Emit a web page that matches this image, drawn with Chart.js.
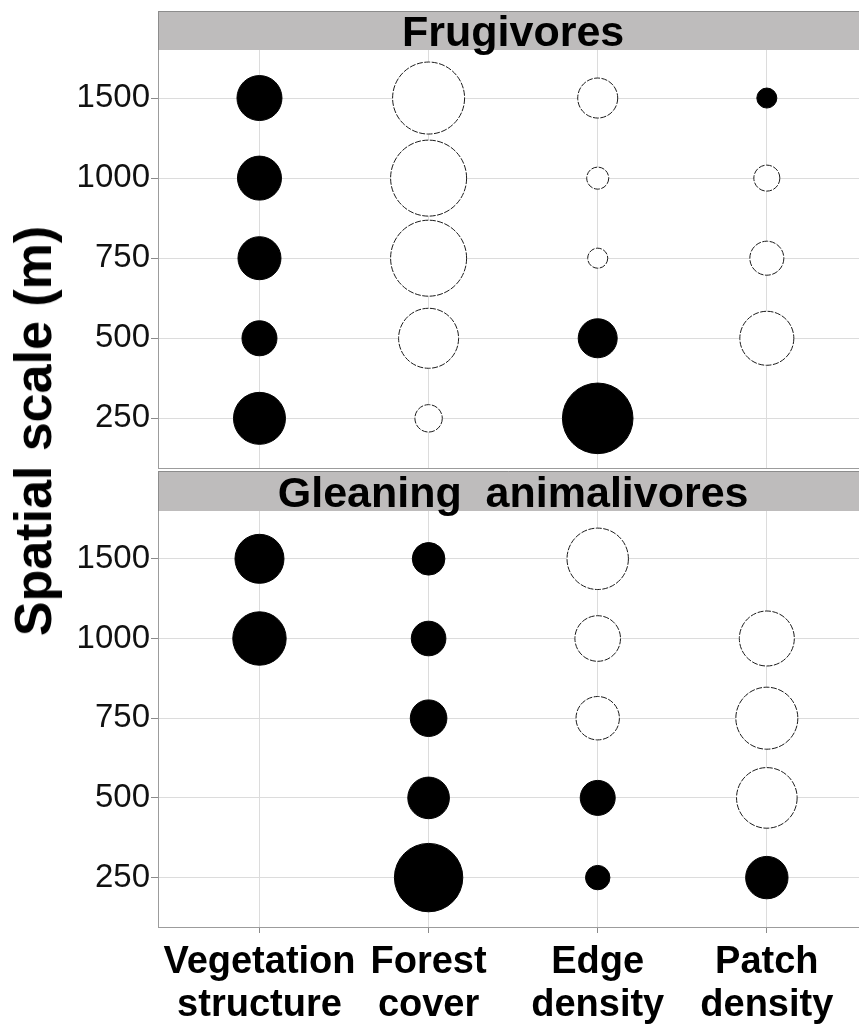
<!DOCTYPE html>
<html>
<head>
<meta charset="utf-8">
<script src="https://cdn.jsdelivr.net/npm/chart.js@4.4.1/dist/chart.umd.min.js"></script>
<style>
  html, body { margin: 0; padding: 0; background: #fff; }
  #wrap { position: relative; width: 859px; height: 1030px; overflow: hidden; }
  #topChart { position: absolute; left: 0; top: 0; }
  #bottomChart { position: absolute; left: 0; top: 470px; }
  #ytitle {
    position: absolute; left: 33px; top: 431px;
    transform: translate(-50%, -50%) rotate(-90deg);
    white-space: nowrap; line-height: 1;
    font: bold 52px 'Liberation Sans', Arial, sans-serif; color: #000;
  }
</style>
</head>
<body>
<div id="wrap">
  <canvas id="topChart" width="859" height="470"></canvas>
  <canvas id="bottomChart" width="859" height="560"></canvas>
  <div id="ytitle">Spatial scale (m)</div>
</div>
<script>
// landscape variables (x) and spatial scales (y, top to bottom)
var variables = [['Vegetation', 'structure'], ['Forest', 'cover'], ['Edge', 'density'], ['Patch', 'density']];
var spatialScales = ['1500', '1000', '750', '500', '250'];

// effect sizes per scale (1500..250); positive = filled, negative = open, null = none
var frugVegetation = [2.25, 2.2, 2.15, 1.75, 2.6];
var frugForest = [-3.6, -3.8, -3.8, -3.0, -1.37];
var frugEdge = [-2.0, -1.1, -1.0, 1.95, 3.53];
var frugPatch = [1.0, -1.3, -1.7, -2.7, null];

var gleanVegetation = [2.45, 2.67, null, null, null];
var gleanForest = [1.63, 1.73, 1.83, 2.08, 3.42];
var gleanEdge = [-3.07, -2.28, -2.17, 1.75, 1.22];
var gleanPatch = [null, -2.75, -3.1, -3.03, 2.12];

var R_UNIT = 10;
var FONT = "'Liberation Sans', Arial, sans-serif";

function panelDatasets(series) {
  var filled = [], open = [];
  series.forEach(function (vals, xi) {
    vals.forEach(function (v, yi) {
      if (v === null) return;
      var pt = { x: xi, y: yi, r: Math.abs(v) * R_UNIT };
      if (v > 0) filled.push(pt); else open.push(pt);
    });
  });
  return [
    { label: 'positive', data: filled, backgroundColor: '#000', borderColor: '#000', borderWidth: 1, clip: false },
    { label: 'negative', data: open, backgroundColor: '#fff', borderColor: '#1a1a1a', borderWidth: 1, clip: false, dashed: true }
  ];
}

// grey facet strip above the plot area + dashed outline for open bubbles
var stripPlugin = {
  id: 'strip',
  beforeDraw: function (chart, args, opts) {
    var ctx = chart.ctx, a = chart.chartArea;
    ctx.save();
    ctx.fillStyle = '#bebcbc';
    ctx.fillRect(a.left, opts.top, chart.width - a.left, a.top - opts.top);
    ctx.strokeStyle = '#8c8c8c';
    ctx.lineWidth = 1;
    ctx.beginPath();
    ctx.moveTo(a.left, opts.top + 0.5);
    ctx.lineTo(chart.width, opts.top + 0.5);
    ctx.moveTo(a.left + 0.5, opts.top);
    ctx.lineTo(a.left + 0.5, a.top);
    ctx.stroke();
    ctx.restore();
  },
  afterDraw: function (chart, args, opts) {
    var ctx = chart.ctx, a = chart.chartArea;
    var cx = chart.scales.x.getPixelForValue(1.5);
    var cy = (opts.top + a.top) / 2;
    ctx.save();
    ctx.font = 'bold 43px ' + FONT;
    ctx.fillStyle = '#000';
    ctx.textAlign = 'center';
    ctx.textBaseline = 'alphabetic';
    ctx.fillText(opts.text, cx, cy + 15.5);
    ctx.restore();
  },
  beforeDatasetDraw: function (chart, args) {
    if (chart.data.datasets[args.index].dashed) chart.ctx.setLineDash([6, 1.5]);
  },
  afterDatasetDraw: function (chart) {
    chart.ctx.setLineDash([]);
  }
};

function yScale() {
  return {
    type: 'linear', reverse: true, min: -0.6, max: 4.62,
    afterBuildTicks: function (s) { s.ticks = spatialScales.map(function (t, i) { return { value: i }; }); },
    afterFit: function (s) { s.width = 158; s.paddingTop = 0; s.paddingBottom = 0; },
    grid: { color: '#dcdcdc', lineWidth: 1, drawTicks: true, tickLength: 7, tickColor: '#8a8a8a' },
    border: { display: true, color: '#9c9c9c', width: 1 },
    ticks: {
      autoSkip: false, padding: 1, color: '#111',
      font: { family: FONT, size: 33 },
      callback: function (v) { return spatialScales[v]; }
    }
  };
}

function xScale(showLabels) {
  return {
    type: 'linear', min: -0.6, max: 3.545,
    afterBuildTicks: function (s) { s.ticks = variables.map(function (t, i) { return { value: i }; }); },
    afterFit: function (s) { s.height = showLabels ? 103 : 0; s.paddingLeft = 0; s.paddingRight = 0; },
    grid: { color: '#dcdcdc', lineWidth: 1, drawTicks: showLabels, tickLength: 6, tickColor: '#8a8a8a' },
    border: { display: true, color: '#9c9c9c', width: 1 },
    ticks: {
      display: showLabels, autoSkip: false, maxRotation: 0, padding: 8, color: '#000',
      font: { family: FONT, size: 38, weight: 'bold', lineHeight: 1.13 },
      callback: function (v) { return variables[v]; }
    }
  };
}

function makePanel(id, series, title, stripTop, padTop, padBottom, showLabels) {
  var ctx = document.getElementById(id).getContext('2d');
  return new Chart(ctx, {
    type: 'bubble',
    data: { datasets: panelDatasets(series) },
    options: {
      responsive: false,
      animation: false,
      events: [],
      layout: { autoPadding: false, padding: { top: padTop, bottom: padBottom, left: 0, right: 0 } },
      plugins: {
        legend: { display: false },
        tooltip: { enabled: false },
        strip: { text: title, top: stripTop }
      },
      scales: { x: xScale(showLabels), y: yScale() }
    },
    plugins: [stripPlugin]
  });
}

makePanel('topChart', [frugVegetation, frugForest, frugEdge, frugPatch], 'Frugivores', 11, 50, 2, false);
makePanel('bottomChart', [gleanVegetation, gleanForest, gleanEdge, gleanPatch], 'Gleaning  animalivores', 1, 41, 0, true);
</script>
</body>
</html>
